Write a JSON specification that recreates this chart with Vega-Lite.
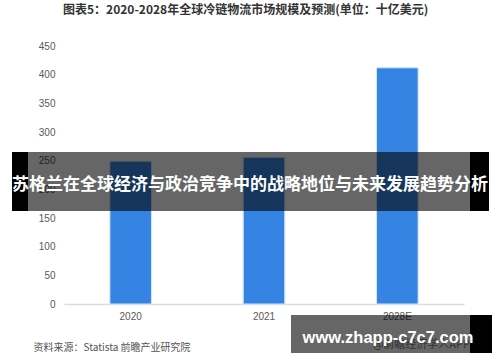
{
  "$schema": "https://vega.github.io/schema/vega-lite/v6.json",
  "width": 400,
  "height": 258,
  "autosize": {"type": "none"},
  "padding": {"left": 64, "top": 46, "right": 36, "bottom": 58},
  "background": "white",
  "title": {
    "text": "图表5：2020-2028年全球冷链物流市场规模及预测(单位：十亿美元)",
    "anchor": "start",
    "frame": "group",
    "dx": -1,
    "offset": 24,
    "font": "Noto Sans CJK SC",
    "fontSize": 12,
    "fontWeight": "bold",
    "color": "#333333"
  },
  "config": {
    "view": {"stroke": null},
    "font": "Liberation Sans"
  },
  "data": {
    "values": [
      {"year": "2020", "size": 249},
      {"year": "2021", "size": 256},
      {"year": "2028E", "size": 412}
    ]
  },
  "layer": [
    {
      "mark": {"type": "bar", "color": "#3584e4", "stroke": "#d6e5fa", "strokeWidth": 1},
      "encoding": {
        "x": {
          "field": "year",
          "type": "nominal",
          "sort": null,
          "scale": {"paddingInner": 0.688, "paddingOuter": 0.344},
          "axis": {
            "title": "资料来源：Statista 前瞻产业研究院",
            "titleFont": "Noto Sans CJK SC",
            "titleFontSize": 10,
            "titleFontWeight": "normal",
            "titleColor": "#555555",
            "titleAnchor": "start",
            "titleAlign": "left",
            "titleBaseline": "middle",
            "titleX": -31,
            "titleY": 43,
            "labelAngle": 0,
            "labelFontSize": 10,
            "labelColor": "#595959",
            "labelPadding": 7,
            "ticks": false,
            "domainColor": "#dcdcdc",
            "domainWidth": 1.5
          }
        },
        "y": {
          "field": "size",
          "type": "quantitative",
          "scale": {"domain": [0, 450], "nice": false},
          "axis": {
            "title": null,
            "values": [0, 50, 100, 150, 200, 250, 300, 350, 400, 450],
            "grid": false,
            "domain": false,
            "ticks": false,
            "labelFontSize": 10,
            "labelColor": "#595959",
            "labelPadding": 9
          }
        }
      }
    },
    {
      "data": {"values": [{"tag": "@前瞻经济学人APP"}]},
      "mark": {"type": "text", "font": "Noto Sans CJK SC", "fontSize": 11, "color": "#7a7a7a", "align": "right", "baseline": "middle"},
      "encoding": {"text": {"field": "tag"}, "x": {"value": 406}, "y": {"value": 299}}
    },
    {
      "data": {"values": [{"part": "side"}]},
      "mark": {"type": "rect", "color": "black"},
      "encoding": {"x": {"value": -52}, "x2": {"value": -36}, "y": {"value": 106}, "y2": {"value": 165}}
    },
    {
      "data": {"values": [{"part": "side"}]},
      "mark": {"type": "rect", "color": "black"},
      "encoding": {"x": {"value": 406}, "x2": {"value": 425}, "y": {"value": 106}, "y2": {"value": 165}}
    },
    {
      "data": {"values": [{"part": "band"}]},
      "mark": {"type": "rect", "color": "black", "opacity": 0.6},
      "encoding": {"x": {"value": -36}, "x2": {"value": 406}, "y": {"value": 106}, "y2": {"value": 165}}
    },
    {
      "data": {"values": [{"headline": "苏格兰在全球经济与政治竞争中的战略地位与未来发展趋势分析"}]},
      "mark": {"type": "text", "font": "Noto Sans CJK SC", "fontSize": 17, "fontWeight": "bold", "color": "white", "align": "center", "baseline": "middle"},
      "encoding": {"text": {"field": "headline"}, "x": {"value": 186}, "y": {"value": 139}}
    },
    {
      "data": {"values": [{"part": "side"}]},
      "mark": {"type": "rect", "color": "black"},
      "encoding": {"x": {"value": 406}, "x2": {"value": 428}, "y": {"value": 269}, "y2": {"value": 307}}
    },
    {
      "data": {"values": [{"part": "band"}]},
      "mark": {"type": "rect", "color": "black", "opacity": 0.6},
      "encoding": {"x": {"value": 227}, "x2": {"value": 406}, "y": {"value": 269}, "y2": {"value": 307}}
    },
    {
      "data": {"values": [{"site": "www.zhapp-c7c7.com"}]},
      "mark": {"type": "text", "font": "Liberation Sans", "fontSize": 16.5, "fontWeight": "bold", "color": "white", "align": "center", "baseline": "alphabetic"},
      "encoding": {"text": {"field": "site"}, "x": {"value": 324}, "y": {"value": 297}}
    }
  ]
}
